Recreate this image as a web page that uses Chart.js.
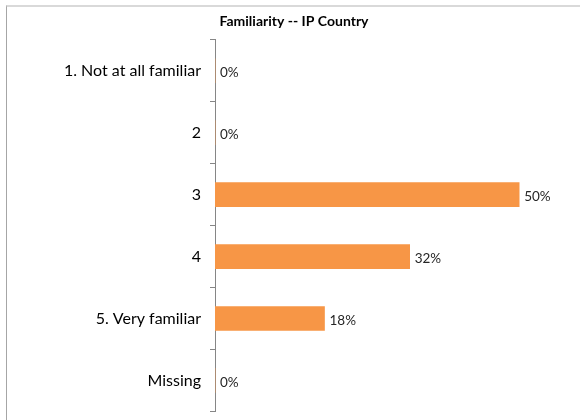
<!DOCTYPE html>
<html>
<head>
<meta charset="utf-8">
<script src="https://cdn.jsdelivr.net/npm/chart.js@4/dist/chart.umd.min.js"></script>
<style>
  html, body { margin: 0; padding: 0; background: #fff; }
  #wrap { position: relative; width: 580px; height: 420px; overflow: hidden; }
  #frame { position: absolute; left: 6px; top: 5px; right: -10px; bottom: -10px;
           border-top: 2px solid #d9d9d9; border-left: 1px solid #a6a6a6; pointer-events: none; }
  canvas { position: absolute; left: 0; top: 0; }
</style>
</head>
<body>
<div id="wrap">
  <canvas id="c" width="580" height="430"></canvas>
  <div id="frame"></div>
</div>
<script>
const chartTitle = 'Familiarity -- IP Country';
const categories = ['1. Not at all familiar', '2', '3', '4', '5. Very familiar', 'Missing'];
const shares = [0, 0, 0.50, 0.32, 0.18, 0];

const FONT = 'Lato, "Liberation Sans", sans-serif';

// Writes the percentage just past the end of each bar
const valueLabels = {
  id: 'valueLabels',
  afterDatasetsDraw(chart) {
    const ctx = chart.ctx;
    const meta = chart.getDatasetMeta(0);
    ctx.save();
    ctx.font = '13.5px ' + FONT;
    ctx.fillStyle = '#262626';
    ctx.textAlign = 'left';
    ctx.textBaseline = 'middle';
    meta.data.forEach((bar, i) => {
      const v = chart.data.datasets[0].data[i];
      ctx.fillText(Math.round(v * 100) + '%', bar.x + 5, bar.y + 2);
    });
    ctx.restore();
  }
};

new Chart(document.getElementById('c'), {
  type: 'bar',
  data: {
    labels: categories,
    datasets: [{
      data: shares,
      backgroundColor: '#F79646',
      borderWidth: 0,
      barThickness: 24
    }]
  },
  options: {
    indexAxis: 'y',
    responsive: false,
    animation: false,
    layout: { padding: { left: 8, right: 0, top: 0, bottom: 0 } },
    plugins: {
      legend: { display: false },
      tooltip: { enabled: false },
      title: {
        display: true,
        text: chartTitle,
        color: '#000',
        font: { family: FONT, size: 14, weight: 'bold' },
        padding: { top: 13, bottom: 10 }
      }
    },
    scales: {
      x: {
        display: false,
        min: 0,
        max: 0.6
      },
      y: {
        afterFit(scale) { scale.width = 207; },
        border: { display: true, color: '#868686', width: 1 },
        grid: {
          offset: true,
          drawOnChartArea: false,
          drawTicks: true,
          tickLength: 5,
          color: '#868686'
        },
        ticks: {
          color: '#000',
          padding: 9,
          font: { family: FONT, size: 16 }
        }
      }
    }
  },
  plugins: [valueLabels]
});
</script>
</body>
</html>
